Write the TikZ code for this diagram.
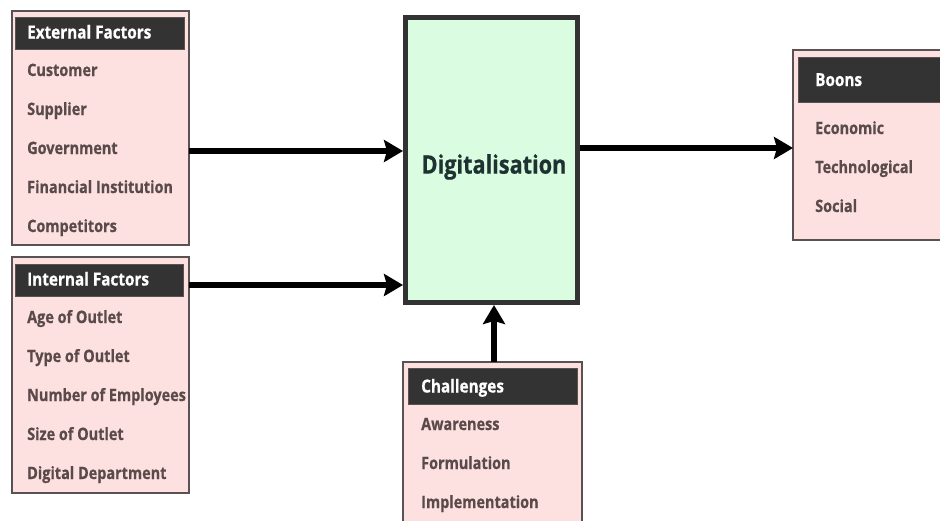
\documentclass[tikz,border=0pt]{standalone}
\usepackage{fontspec}
\setmainfont{Open Sans}[FakeStretch=0.85, FakeBold=0.6]
\usetikzlibrary{arrows.meta}
\definecolor{boxpink}{HTML}{FDE0E0}
\definecolor{boxline}{HTML}{5A5252}
\definecolor{headfill}{HTML}{333333}
\definecolor{itemtext}{HTML}{5A4A4A}
\definecolor{digfill}{HTML}{DAFCE0}
\definecolor{digline}{HTML}{333333}
\definecolor{digtext}{HTML}{1E3232}
\tikzset{
  panel/.style={draw=boxline, fill=boxpink, line width=1.2pt},
  header/.style={draw=boxline, fill=headfill, line width=1pt},
  headtext/.style={anchor=base west, inner sep=0pt, text=white, font=\fontsize{18}{20}\selectfont\bfseries},
  item/.style={anchor=base west, inner sep=0pt, text=itemtext, font=\fontsize{17}{19}\selectfont\bfseries},
  flow/.style={line width=5.5pt, -{Stealth[length=19pt, width=22pt, inset=3pt]}},
}
\begin{document}
\begin{tikzpicture}[x=1pt, y=-1pt]
\useasboundingbox (0,0) rectangle (940,520);
\fill[white] (0,0) rectangle (940,520);

% External factors panel
\draw[panel] (12,11) rectangle (189,245);
\draw[header] (15,17) rectangle (184,49);
\node[headtext] (exth) at (27,38.5) {External Factors};
\node[item] (e1) at (27,76) {Customer};
\node[item] (e2) at (27,115) {Supplier};
\node[item] (e3) at (27,154) {Government};
\node[item] (e4) at (27,193) {Financial Institution};
\node[item] (e5) at (27,232) {Competitors};
\coordinate (extout) at (189,151);

% Internal factors panel
\draw[panel] (12,257) rectangle (189,493);
\draw[header] (15,264) rectangle (183,296);
\node[headtext] (inth) at (27,285.5) {Internal Factors};
\node[item] (i1) at (27,323) {Age of Outlet};
\node[item] (i2) at (27,362) {Type of Outlet};
\node[item] (i3) at (27,401) {Number of Employees};
\node[item] (i4) at (27,440) {Size of Outlet};
\node[item] (i5) at (27,479) {Digital Department};
\coordinate (intout) at (189,285);

% Central block
\draw[fill=digfill, draw=digline, line width=5pt] (405.5,17.5) rectangle (577.5,302.5);
\node[text=digtext, font=\fontsize{25.5}{30}\selectfont\bfseries] (dig) at (494,167) {Digitalisation};
\coordinate (digin1) at (403,151);
\coordinate (digin2) at (403,285);
\coordinate (digout) at (580,148);
\coordinate (digbot) at (494,305);

% Challenges panel
\draw[panel] (403,362) rectangle (582,530);
\draw[header] (408,368) rectangle (577,404);
\node[headtext] (chh) at (421,392.5) {Challenges};
\node[item] (c1) at (421,430) {Awareness};
\node[item] (c2) at (421,469) {Formulation};
\node[item] (c3) at (421,508) {Implementation};
\coordinate (chtop) at (494,362);

% Boons panel
\draw[panel] (793,50) rectangle (950,240);
\draw[header] (798,57) rectangle (945,102);
\node[headtext] (bnh) at (815,86) {Boons};
\node[item] (b1) at (815,134) {Economic};
\node[item] (b2) at (815,173) {Technological};
\node[item] (b3) at (815,212) {Social};
\coordinate (bnin) at (793,148);

% Connectors
\draw[flow] (extout) -- (digin1);
\draw[flow] (intout) -- (digin2);
\draw[flow] (digout) -- (bnin);
\draw[flow] (chtop) -- (digbot);
\end{tikzpicture}
\end{document}
